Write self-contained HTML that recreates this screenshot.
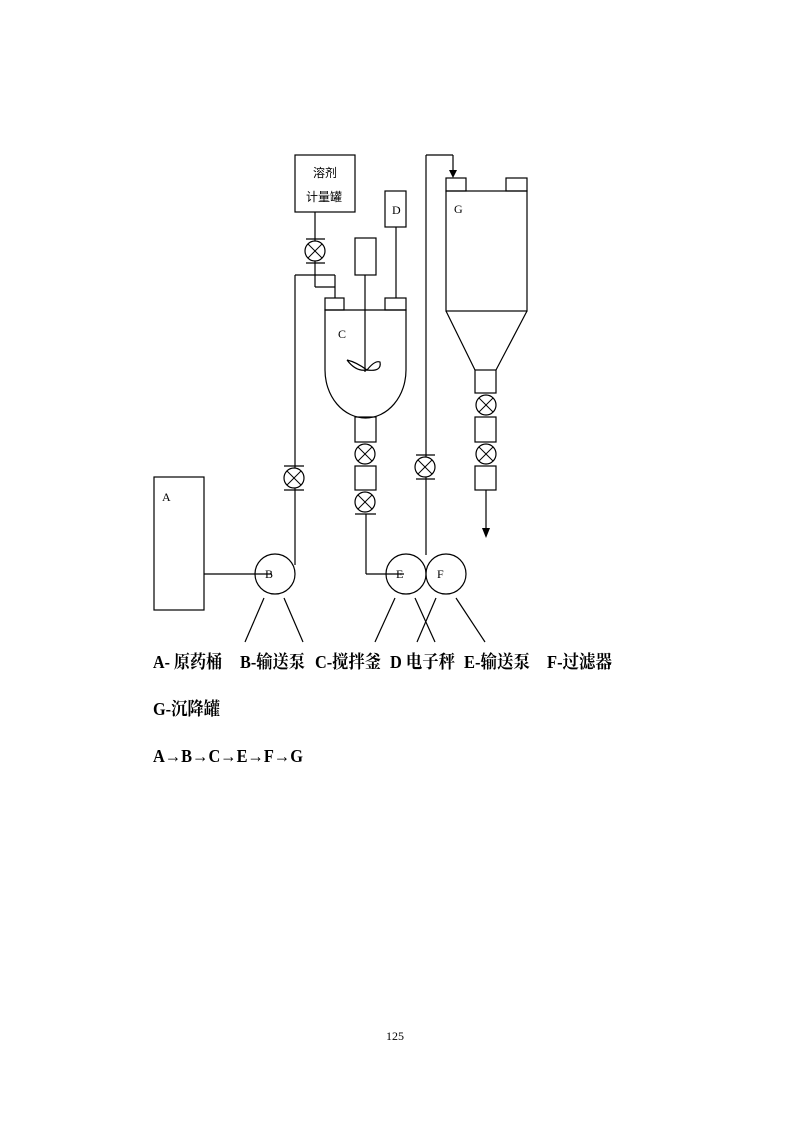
<!DOCTYPE html>
<html><head><meta charset="utf-8"><style>
html,body{margin:0;padding:0;background:#fff;}
svg{display:block;}
.t{font-family:"Liberation Serif","Noto Serif CJK SC",serif;font-weight:bold;font-size:18px;fill:#000;}
.s{font-family:"Liberation Sans","Noto Sans CJK SC",sans-serif;font-size:12px;fill:#000;}
.l{font-family:"Liberation Serif",serif;font-size:12px;fill:#000;}
</style></head><body>
<svg width="793" height="1122" viewBox="0 0 793 1122" xmlns="http://www.w3.org/2000/svg">
<defs>
<g id="v"><circle cx="0" cy="0" r="10" fill="#fff" stroke="#000" stroke-width="1.2"/><line x1="-7" y1="-7" x2="7" y2="7" stroke="#000"/><line x1="7" y1="-7" x2="-7" y2="7" stroke="#000"/></g>
</defs>
<g fill="none" stroke="#000" stroke-width="1.2">
<rect x="295" y="155" width="60" height="57"/>
<line x1="315" y1="212" x2="315" y2="287"/>
<line x1="315" y1="287" x2="335" y2="287"/>
<line x1="295" y1="275" x2="335" y2="275"/>
<line x1="335" y1="275" x2="335" y2="298"/>
<line x1="295" y1="275" x2="295" y2="565"/>
<line x1="306" y1="239" x2="325" y2="239"/>
<line x1="306" y1="263" x2="325" y2="263"/>
<rect x="325" y="298" width="19" height="12"/>
<rect x="385" y="298" width="21" height="12"/>
<path d="M325 310 L406 310 L406 370 A40.5 48 0 0 1 325 370 Z"/>
<rect x="355" y="238" width="21" height="37"/>
<line x1="365" y1="275" x2="365" y2="372"/>
<path d="M347 360 Q356 362 367 370 Q375 360 380 362 Q382 372 367 370 Q356 372 347 360"/>
<rect x="385" y="191" width="21" height="36"/>
<line x1="396" y1="227" x2="396" y2="298"/>
<rect x="355" y="417" width="21" height="25"/>
<rect x="355" y="466" width="21" height="24"/>
<line x1="355" y1="514" x2="376" y2="514"/>
<line x1="366" y1="514" x2="366" y2="574"/>
<line x1="366" y1="574" x2="404" y2="574"/>
<line x1="426" y1="155" x2="426" y2="555"/>
<line x1="426" y1="155" x2="453" y2="155"/>
<line x1="453" y1="155" x2="453" y2="170"/>
<rect x="446" y="178" width="20" height="13"/>
<rect x="506" y="178" width="21" height="13"/>
<rect x="446" y="191" width="81" height="120"/>
<path d="M446 311 L475 370 M527 311 L496 370"/>
<rect x="475" y="370" width="21" height="23"/>
<rect x="475" y="417" width="21" height="25"/>
<rect x="475" y="466" width="21" height="24"/>
<line x1="486" y1="490" x2="486" y2="530"/>
<line x1="416" y1="455" x2="435" y2="455"/>
<line x1="416" y1="479" x2="435" y2="479"/>
<line x1="284" y1="466" x2="304" y2="466"/>
<line x1="284" y1="490" x2="304" y2="490"/>
<rect x="154" y="477" width="50" height="133"/>
<line x1="204" y1="574" x2="272" y2="574"/>
<circle cx="275" cy="574" r="20"/>
<circle cx="406" cy="574" r="20"/>
<circle cx="446" cy="574" r="20"/>
<line x1="264" y1="598" x2="245" y2="642"/>
<line x1="284" y1="598" x2="303" y2="642"/>
<line x1="395" y1="598" x2="375" y2="642"/>
<line x1="415" y1="598" x2="435" y2="642"/>
<line x1="436" y1="598" x2="417" y2="642"/>
<line x1="456" y1="598" x2="485" y2="642"/>
</g>
<polygon points="449,170 457,170 453,178" fill="#000"/>
<polygon points="482,528 490,528 486,538" fill="#000"/>
<use href="#v" x="315" y="251"/>
<use href="#v" x="365" y="454"/>
<use href="#v" x="365" y="502"/>
<use href="#v" x="486" y="405"/>
<use href="#v" x="486" y="454"/>
<use href="#v" x="294" y="478"/>
<use href="#v" x="425" y="467"/>
<text class="s" x="313" y="177">溶剂</text>
<text class="s" x="306" y="201">计量罐</text>
<text class="l" x="392" y="214">D</text>
<text class="l" x="454" y="213">G</text>
<text class="l" x="338" y="338">C</text>
<text class="l" x="162" y="501">A</text>
<text class="l" x="265" y="578">B</text>
<text class="l" x="396" y="578">E</text>
<text class="l" x="437" y="578">F</text>
<text class="t" x="153" y="668" textLength="69" lengthAdjust="spacingAndGlyphs">A- 原药桶</text>
<text class="t" x="240" y="668" textLength="65" lengthAdjust="spacingAndGlyphs">B-输送泵</text>
<text class="t" x="315" y="668" textLength="66" lengthAdjust="spacingAndGlyphs">C-搅拌釜</text>
<text class="t" x="390" y="668" textLength="65" lengthAdjust="spacingAndGlyphs">D 电子秤</text>
<text class="t" x="464" y="668" textLength="66" lengthAdjust="spacingAndGlyphs">E-输送泵</text>
<text class="t" x="547" y="668" textLength="65" lengthAdjust="spacingAndGlyphs">F-过滤器</text>
<text class="t" x="153" y="715" textLength="67" lengthAdjust="spacingAndGlyphs">G-沉降罐</text>
<text class="t" x="153" y="762" textLength="150" lengthAdjust="spacingAndGlyphs">A→B→C→E→F→G</text>
<text class="l" x="386" y="1040">125</text>
</svg>
</body></html>
